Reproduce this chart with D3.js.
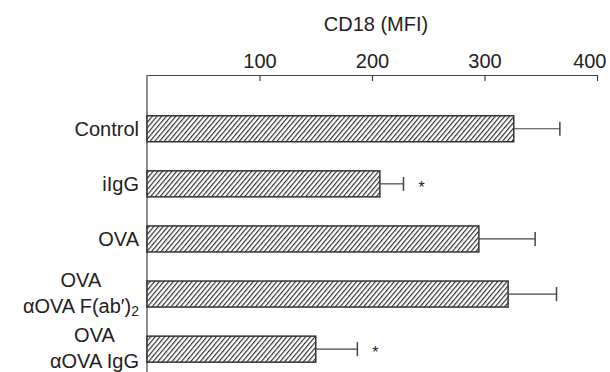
<!DOCTYPE html>
<html lang="en">
<head>
    <meta charset="utf-8">
    <script src='https://d3js.org/d3.v7.min.js'></script>
    <style>
        body { margin: 0; background: #fff; }
        text { font-family: "Liberation Sans", Arial, sans-serif; fill: #222; }
    </style>
</head>
<body>
    <script>
        // data
        const categories = ["Control", "iIgG", "OVA", "OVA|αOVA F(ab′)2", "OVA|αOVA IgG"];
        const values = [326, 207, 295, 321, 150];
        const errors = [41, 21, 50, 43, 37];
        const significant = [false, true, false, false, true];
        const tickValues = [100, 200, 300, 400];
        const data = categories.map((c, i) => ({ name: c, value: values[i], err: errors[i], sig: significant[i] }));

        const width = 610, height = 372;
        const plotLeft = 147, plotRight = 597, plotTop = 75;
        const fs = 20;

        const svg = d3.select("body").append("svg")
            .attr("width", width)
            .attr("height", height);

        // hatch pattern
        const pat = svg.append("defs").append("pattern")
            .attr("id", "hatch")
            .attr("patternUnits", "userSpaceOnUse")
            .attr("width", 3.6)
            .attr("height", 10)
            .attr("patternTransform", "rotate(40)");
        pat.append("rect").attr("width", 3.6).attr("height", 10).attr("fill", "#fff");
        pat.append("line")
            .attr("x1", 0.6).attr("x2", 0.6).attr("y1", 0).attr("y2", 10)
            .attr("stroke", "#222").attr("stroke-width", 1.1);

        const x = d3.scaleLinear().domain([0, 400]).range([plotLeft, plotRight]);
        const y = d3.scaleBand().domain(categories)
            .range([101.2, 376.7])
            .paddingInner(0.528)
            .paddingOuter(0.264);

        // top axis
        const xAxis = svg.append("g")
            .attr("transform", `translate(0,${plotTop})`)
            .call(d3.axisTop(x).tickValues(tickValues).tickSizeInner(-6).tickSizeOuter(0).tickPadding(7));
        xAxis.select(".domain").attr("stroke", "#444").attr("stroke-width", 1.2);
        xAxis.selectAll(".tick line").attr("stroke", "#444").attr("stroke-width", 1.2);
        xAxis.selectAll(".tick text")
            .attr("font-size", fs)
            .attr("font-family", "Liberation Sans, Arial, sans-serif")
            .attr("fill", "#222");
        // last label is pulled in so it stays inside the frame
        xAxis.selectAll(".tick text")
            .filter(d => d === tickValues[tickValues.length - 1])
            .attr("text-anchor", "end")
            .attr("x", 9);

        // left axis line
        svg.append("line")
            .attr("x1", plotLeft).attr("x2", plotLeft)
            .attr("y1", plotTop).attr("y2", height)
            .attr("stroke", "#444").attr("stroke-width", 1.2);

        // title
        svg.append("text")
            .attr("x", (plotLeft + plotRight) / 2 + 4)
            .attr("y", 31)
            .attr("text-anchor", "middle")
            .attr("font-size", fs)
            .text("CD18 (MFI)");

        // bars
        svg.selectAll("rect.bar")
            .data(data)
            .enter()
            .append("rect")
            .attr("class", "bar")
            .attr("x", x(0))
            .attr("y", d => y(d.name))
            .attr("width", d => x(d.value) - x(0))
            .attr("height", y.bandwidth())
            .attr("fill", "url(#hatch)")
            .attr("stroke", "#333")
            .attr("stroke-width", 1.5);

        // error bars
        const eb = svg.selectAll("g.err")
            .data(data)
            .enter()
            .append("g")
            .attr("class", "err");
        eb.append("line")
            .attr("x1", d => x(d.value)).attr("x2", d => x(d.value + d.err))
            .attr("y1", d => y(d.name) + y.bandwidth() / 2)
            .attr("y2", d => y(d.name) + y.bandwidth() / 2)
            .attr("stroke", "#444").attr("stroke-width", 1.2);
        eb.append("line")
            .attr("x1", d => x(d.value + d.err)).attr("x2", d => x(d.value + d.err))
            .attr("y1", d => y(d.name) + y.bandwidth() / 2 - 7)
            .attr("y2", d => y(d.name) + y.bandwidth() / 2 + 7)
            .attr("stroke", "#444").attr("stroke-width", 1.5);

        // significance stars
        svg.selectAll("text.star")
            .data(data.filter(d => d.sig))
            .enter()
            .append("text")
            .attr("class", "star")
            .attr("x", d => x(d.value + d.err) + 18)
            .attr("y", d => y(d.name) + y.bandwidth() / 2 + 9)
            .attr("text-anchor", "middle")
            .attr("font-size", 16)
            .text("*");

        // category labels
        const labelRight = 139;
        data.forEach(d => {
            const cy = y(d.name) + y.bandwidth() / 2;
            const lines = d.name.split("|");
            if (lines.length === 1) {
                svg.append("text")
                    .attr("x", labelRight)
                    .attr("y", cy + 7)
                    .attr("text-anchor", "end")
                    .attr("font-size", fs)
                    .text(lines[0]);
            } else {
                // second line sets the block width, first line is centred over it
                const second = lines[1];
                const t2 = svg.append("text")
                    .attr("y", cy + 19)
                    .attr("font-size", fs);
                if (second.endsWith("2") && second.includes("F(")) {
                    t2.append("tspan").text(second.slice(0, -1));
                    t2.append("tspan")
                        .attr("font-size", 14)
                        .attr("dy", 3)
                        .text("2");
                } else {
                    t2.text(second);
                }
                const w = t2.node().getComputedTextLength();
                t2.attr("x", labelRight - w);
                svg.append("text")
                    .attr("x", labelRight - w / 2)
                    .attr("y", cy - 7)
                    .attr("text-anchor", "middle")
                    .attr("font-size", fs)
                    .text(lines[0]);
            }
        });
    </script>
</body>
</html>
